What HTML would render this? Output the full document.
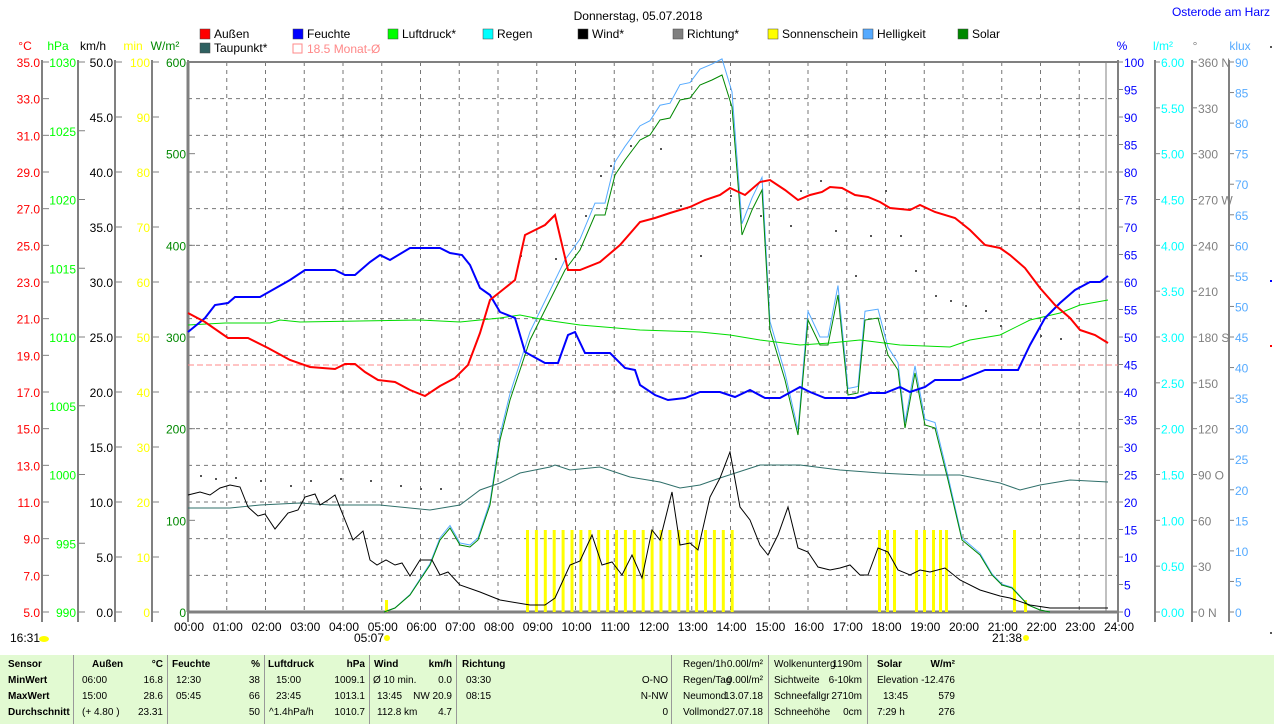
<!DOCTYPE html>
<html><head><meta charset="utf-8">
<style>
html,body{margin:0;padding:0;background:#fff;}
body{width:1274px;height:724px;overflow:hidden;position:relative;font-family:"Liberation Sans",sans-serif;}
svg{position:absolute;left:0;top:0;}
svg text{font-family:"Liberation Sans",sans-serif;font-size:12px;}
#tbl{position:absolute;left:0;top:655px;width:1274px;height:69px;background:#e2fad2;font-size:10px;}
#tbl div{position:absolute;white-space:nowrap;}
.sep{position:absolute;top:0;width:1px;height:69px;background:#999;}
</style></head><body>
<svg id="s" width="1274" height="655" xmlns="http://www.w3.org/2000/svg"></svg>
<div id="tbl"></div>
<script>
const S=document.getElementById('s');let h='';
const X0=188,X1=1118,Y0=62,Y1=612;
function T(x,y,t,c,a,fs){h+=`<text x="${x}" y="${y}" fill="${c||'#000'}" text-anchor="${a||'start'}" ${fs?`font-size="${fs}"`:''}>${t}</text>`;}
function L(x1,y1,x2,y2,c,w,d){h+=`<line x1="${x1}" y1="${y1}" x2="${x2}" y2="${y2}" stroke="${c}" stroke-width="${w||1}" ${d?`stroke-dasharray="${d}"`:''}/>`;}
function P(pts,c,w){h+=`<polyline fill="none" stroke="${c}" stroke-width="${w||1}" points="${pts.map(p=>p.join(',')).join(' ')}"/>`;}
T(638,20,'Donnerstag, 05.07.2018','#000','middle',15);
T(1270,16,'Osterode am Harz','#0000ff','end',10);
const lg=[[200,38,'#f00','Außen'],[293,38,'#00f','Feuchte'],[388,38,'#0f0','Luftdruck*'],[483,38,'#0ff','Regen'],[578,38,'#000','Wind*'],[673,38,'#808080','Richtung*'],[768,38,'#ff0','Sonnenschein'],[863,38,'#5af','Helligkeit'],[958,38,'#080','Solar'],[200,52,'#2f6060','Taupunkt*']];
lg.forEach(l=>{h+=`<rect x="${l[0]}" y="${l[1]-9}" width="10" height="10" fill="${l[2]}" stroke="#444" stroke-width="0.5"/>`;T(l[0]+14,l[1],l[3],'#000','start',11);});
h+=`<rect x="293" y="44" width="9" height="9" fill="none" stroke="#f88"/>`;T(307,53,'18.5 Monat-Ø','#f88','start',11);
for(let i=1;i<24;i++){let x=X0+i*(X1-X0)/24;L(x,Y0,x,Y1,'#777',1,'4,4');}
for(let i=1;i<15;i++){let y=Y0+i*550/15;L(X0,y,X1,y,'#777',1,'4,4');}
L(X0,Y0,X1,Y0,'#808080',2);L(X0,Y0,X0,Y1,'#808080',3);L(X1,Y0,X1,Y1,'#808080',2);L(X0,Y1,X1,Y1,'#808080',3);
L(1106,Y0,1106,Y1,'#808080',1);
for(let i=0;i<=24;i++){let x=X0+i*(X1-X0)/24;T(x+1,631,(i<10?'0':'')+i+':00','#000','middle',12);}
function lax(x,lbl,col,v0,v1,st,dec,lx){L(x,Y0-2,x,Y1+10,'#808080',2);T(lx,50,lbl,col,'middle',12);
 for(let v=v0;v<=v1+1e-9;v+=st){let y=Y1-(v-v0)/(v1-v0)*550;L(x-1,y,x+7,y,'#808080',1);T(x-2,y+5,v.toFixed(dec),col,'end',12);}}
lax(42,'°C','#f00',5,35,2,1,25);lax(78,'hPa','#0f0',990,1030,5,0,58);lax(115,'km/h','#000',0,50,5,1,93);lax(152,'min','#ff0',0,100,10,0,133);lax(188,'W/m²','#080',0,600,100,0,165);
function rax(x,lbl,col,v0,v1,st,dec,lx,suf){L(x,Y0-2,x,Y1+10,'#808080',2);T(lx,50,lbl,col,'middle',12);
 for(let v=v0;v<=v1+1e-9;v+=st){let y=Y1-(v-v0)/(v1-v0)*550;L(x,y,x+5,y,'#808080',1);T(x+6,y+5,v.toFixed(dec)+(suf?suf(v):''),col,'start',12);}}
rax(1118,'%','#00f',0,100,5,0,1122);rax(1155,'l/m²','#0ff',0,6,.5,2,1163);
rax(1192,'°','#808080',0,360,30,0,1195,v=>({0:' N',90:' O',180:' S',270:' W',360:' N'}[v]||''));
rax(1229,'klux','#5af',0,90,5,0,1240);
L(X0,365,X1,365,'#f88',1,'6,3');
let sb=[];for(let x=526;x<=731;x+=8.9)sb.push(x);[878,886,893,915,923,932,939,945,1013].forEach(x=>sb.push(x));
sb.forEach(x=>h+=`<rect x="${x}" y="530" width="3" height="82" fill="#ff0"/>`);
h+=`<rect x="385" y="600" width="3" height="12" fill="#ff0"/><rect x="1024" y="600" width="3" height="12" fill="#ff0"/>`;
[[200,475],[215,478],[235,477],[260,480],[290,485],[310,480],[340,478],[370,480],[400,485],[420,488],[440,488],[520,255],[555,258],[585,215],[600,175],[610,165],[630,145],[660,148],[680,205],[700,255],[730,195],[760,215],[790,225],[800,190],[820,180],[835,230],[855,275],[870,235],[885,190],[900,235],[915,270],[935,295],[950,300],[965,305],[985,310],[1000,325],[1040,335],[1060,338]].forEach(p=>h+=`<rect x="${p[0]}" y="${p[1]}" width="2" height="2" fill="#555"/>`);
const sol=[[384,612],[395,608],[410,595],[420,580],[430,565],[440,540],[450,528],[460,545],[470,547],[478,540],[490,505],[500,440],[510,400],[520,370],[530,340],[545,310],[555,290],[565,270],[580,250],[595,215],[605,215],[615,175],[625,160],[640,140],[650,135],[660,120],[670,118],[680,100],[690,98],[700,85],[712,80],[722,75],[732,107],[742,235],[752,210],[762,190],[770,330],[785,380],[798,435],[808,320],[820,345],[828,345],[838,295],[848,395],[858,393],[865,320],[878,318],[888,355],[898,370],[905,428],[915,373],[925,425],[935,428],[948,480],[962,540],[980,555],[992,575],[1002,585],[1012,588],[1028,605],[1040,610],[1050,612]];
P(sol.map(p=>[p[0],p[1]-(612-p[1])*0.03]),'#5af',1);
P(sol,'#080',1);
P([[188,508],[230,508],[260,505],[300,503],[330,505],[380,505],[430,510],[460,505],[480,490],[500,483],[520,473],[550,467],[555,465],[570,470],[600,467],[630,477],[660,482],[680,488],[700,485],[720,478],[760,465],[800,465],[840,470],[880,473],[920,475],[960,475],[1000,483],[1020,490],[1040,485],[1070,480],[1108,482]],'#2f6f6a',1);
P([[188,325],[225,323],[270,323],[280,320],[300,322],[420,320],[460,322],[500,318],[520,315],[545,320],[580,325],[640,330],[700,332],[730,335],[760,340],[800,345],[830,343],[860,340],[900,345],[950,347],[970,340],[1000,335],[1030,320],[1060,313],[1080,305],[1108,300]],'#0d0',1);
P([[188,495],[200,492],[210,495],[220,488],[230,485],[240,487],[248,507],[258,516],[265,514],[275,529],[288,513],[298,510],[305,497],[315,494],[320,505],[328,500],[335,495],[345,520],[353,540],[363,531],[370,560],[377,565],[386,560],[395,565],[402,563],[410,576],[420,560],[432,560],[440,575],[448,572],[460,585],[480,592],[500,600],[530,605],[545,605],[555,598],[570,565],[580,561],[592,535],[602,565],[612,562],[622,575],[632,555],[642,578],[652,530],[660,540],[672,492],[680,545],[690,543],[698,550],[710,497],[720,478],[730,452],[740,507],[750,520],[760,545],[768,555],[778,535],[788,507],[798,548],[808,552],[818,567],[830,570],[840,568],[850,565],[860,575],[868,575],[878,548],[888,552],[898,570],[910,575],[920,570],[930,572],[945,568],[960,580],[980,590],[1000,596],[1010,598],[1030,605],[1050,608],[1108,608]],'#000',1);
P([[188,332],[205,318],[215,305],[228,303],[235,297],[260,297],[290,280],[305,270],[335,270],[345,275],[355,275],[370,262],[380,255],[390,260],[410,248],[440,248],[450,253],[462,255],[470,265],[480,288],[490,295],[500,312],[515,318],[525,352],[545,363],[558,363],[568,335],[575,332],[585,353],[610,353],[625,368],[635,370],[640,385],[655,395],[668,400],[685,398],[700,392],[720,392],[735,397],[750,390],[765,398],[780,398],[800,387],[810,392],[825,398],[855,398],[870,393],[885,393],[900,387],[910,392],[925,387],[935,380],[960,380],[985,370],[1018,370],[1030,345],[1045,318],[1060,303],[1075,290],[1090,282],[1100,282],[1108,276]],'#00f',2);
P([[188,313],[205,322],[228,338],[248,338],[268,348],[290,360],[310,367],[335,369],[345,364],[355,364],[365,372],[378,380],[395,382],[410,390],[425,396],[440,386],[455,378],[468,365],[480,333],[490,300],[505,288],[515,280],[525,235],[545,225],[555,215],[568,270],[580,270],[600,262],[620,245],[640,222],[655,218],[670,213],[690,207],[705,200],[720,195],[730,188],[745,195],[760,182],[770,180],[785,190],[798,200],[810,195],[822,192],[830,187],[842,188],[855,195],[868,197],[880,202],[890,208],[910,210],[920,205],[935,212],[955,218],[970,230],[985,245],[1000,248],[1010,255],[1025,268],[1040,288],[1055,305],[1070,318],[1080,330],[1095,335],[1108,343]],'#f00',2);
T(10,642,'16:31','#000','start',12);h+=`<ellipse cx="44" cy="639" rx="5" ry="3" fill="#ff0"/>`;
T(354,642,'05:07','#000','start',12);h+=`<circle cx="387" cy="638" r="3" fill="#ff0"/>`;
T(992,642,'21:38','#000','start',12);h+=`<circle cx="1026" cy="638" r="3" fill="#ff0"/>`;
h+=`<rect x="1270" y="46" width="2" height="2" fill="#555"/><rect x="1270" y="280" width="2" height="2" fill="#00f"/><rect x="1270" y="345" width="2" height="2" fill="#f00"/><rect x="1270" y="632" width="2" height="2" fill="#555"/>`;
S.innerHTML=h;
const tb=document.getElementById('tbl');let t='';
[73,167,264,369,456,671,768,867].forEach(x=>t+=`<div class="sep" style="left:${x}px"></div>`);
function C(x,y,s,b,r){t+=`<div style="${r?'right:'+(1274-x)+'px':'left:'+x+'px'};top:${y}px;${b?'font-weight:bold;':''}">${s}</div>`;}
const ry=[4,20,36,52];
['Sensor','MinWert','MaxWert','Durchschnitt'].forEach((s,i)=>C(8,ry[i],s,1));
C(92,ry[0],'Außen',1);C(163,ry[0],'°C',1,1);C(172,ry[0],'Feuchte',1);C(260,ry[0],'%',1,1);C(268,ry[0],'Luftdruck',1);C(365,ry[0],'hPa',1,1);C(374,ry[0],'Wind',1);C(452,ry[0],'km/h',1,1);C(462,ry[0],'Richtung',1);
C(82,ry[1],'06:00');C(163,ry[1],'16.8',0,1);C(82,ry[2],'15:00');C(163,ry[2],'28.6',0,1);C(82,ry[3],'(+ 4.80 )');C(163,ry[3],'23.31',0,1);
C(176,ry[1],'12:30');C(260,ry[1],'38',0,1);C(176,ry[2],'05:45');C(260,ry[2],'66',0,1);C(260,ry[3],'50',0,1);
C(276,ry[1],'15:00');C(365,ry[1],'1009.1',0,1);C(276,ry[2],'23:45');C(365,ry[2],'1013.1',0,1);C(269,ry[3],'^1.4hPa/h');C(365,ry[3],'1010.7',0,1);
C(373,ry[1],'Ø 10 min.');C(452,ry[1],'0.0',0,1);C(377,ry[2],'13:45');C(452,ry[2],'NW 20.9',0,1);C(377,ry[3],'112.8 km');C(452,ry[3],'4.7',0,1);
C(466,ry[1],'03:30');C(466,ry[2],'08:15');C(668,ry[1],'O-NO',0,1);C(668,ry[2],'N-NW',0,1);C(668,ry[3],'0',0,1);
[['Regen/1h','0.00l/m²'],['Regen/Tag','0.00l/m²'],['Neumond','13.07.18'],['Vollmond','27.07.18']].forEach((r,i)=>{C(683,ry[i],r[0]);C(763,ry[i],r[1],0,1);});
[['Wolkenunterg','1190m'],['Sichtweite','6-10km'],['Schneefallgr','2710m'],['Schneehöhe','0cm']].forEach((r,i)=>{C(774,ry[i],r[0]);C(862,ry[i],r[1],0,1);});
C(877,ry[0],'Solar',1);C(955,ry[0],'W/m²',1,1);C(877,ry[1],'Elevation');C(955,ry[1],'-12.476',0,1);C(883,ry[2],'13:45');C(955,ry[2],'579',0,1);C(877,ry[3],'7:29 h');C(955,ry[3],'276',0,1);
tb.innerHTML=t;
</script>
</body></html>
